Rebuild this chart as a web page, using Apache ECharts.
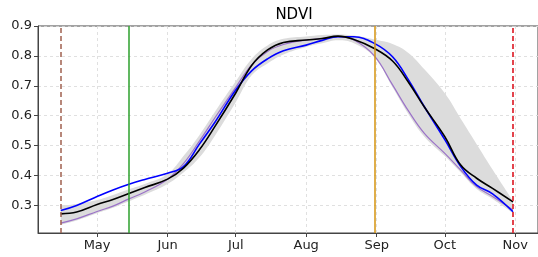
<!DOCTYPE html>
<html>
<head>
<meta charset="utf-8">
<script src="https://cdn.jsdelivr.net/npm/echarts@6/dist/echarts.min.js"></script>
<style>
  html, body { margin: 0; padding: 0; background: #fff; }
  #chart { width: 538px; height: 257px; }
</style>
</head>
<body>
<div id="chart"></div>
<script>
// sample dates along the season
const dates = ['2021-04-15', '2021-04-22', '2021-05-01', '2021-05-08', '2021-05-15', '2021-05-22',
  '2021-06-01', '2021-06-08', '2021-06-15', '2021-06-22', '2021-07-01', '2021-07-08', '2021-07-15',
  '2021-07-22', '2021-08-01', '2021-08-08', '2021-08-15', '2021-08-22', '2021-08-31', '2021-09-08',
  '2021-09-15', '2021-09-22', '2021-10-01', '2021-10-08', '2021-10-15', '2021-10-22', '2021-10-31']

const ndviBlack = [0.272, 0.278, 0.303, 0.32, 0.34, 0.36, 0.388, 0.425, 0.486, 0.566, 0.676, 0.768, 0.82,
  0.845, 0.853, 0.858, 0.866, 0.855, 0.825, 0.783, 0.712, 0.629, 0.53, 0.435, 0.391, 0.357, 0.312]
const ndviBlue = [0.283, 0.30, 0.33, 0.352, 0.371, 0.387, 0.408, 0.43, 0.505, 0.58, 0.686, 0.75, 0.79,
  0.817, 0.836, 0.852, 0.864, 0.864, 0.842, 0.797, 0.72, 0.63, 0.52, 0.43, 0.368, 0.339, 0.279]
const ndviPurple = [0.241, 0.255, 0.28, 0.298, 0.322, 0.345, 0.388, 0.44, 0.515, 0.595, 0.695, 0.77, 0.815,
  0.838, 0.853, 0.858, 0.864, 0.853, 0.80, 0.703, 0.616, 0.541, 0.474, 0.418, 0.363, 0.33, 0.285]
const bandLow = [0.236, 0.25, 0.274, 0.292, 0.314, 0.336, 0.372, 0.41, 0.46, 0.535, 0.645, 0.735, 0.775,
  0.805, 0.83, 0.842, 0.852, 0.842, 0.795, 0.695, 0.605, 0.53, 0.465, 0.41, 0.355, 0.322, 0.275]
const bandHigh = [0.30, 0.305, 0.318, 0.335, 0.354, 0.372, 0.405, 0.465, 0.535, 0.615, 0.715, 0.79, 0.835,
  0.857, 0.865, 0.87, 0.872, 0.868, 0.855, 0.84, 0.81, 0.755, 0.675, 0.59, 0.505, 0.42, 0.315]

const yTicks = [0.3, 0.4, 0.5, 0.6, 0.7, 0.8, 0.9]

// vertical markers: start, green, end of peak, end
const markerDates = ['2021-04-15', '2021-05-15', '2021-08-31', '2021-10-31']

const DAY = 24 * 3600 * 1000
const ts = (d) => +new Date(d + 'T00:00:00')
const pairs = (vals) => dates.map((d, i) => [ts(d), vals[i]])

const chart = echarts.init(document.getElementById('chart'), null, { renderer: 'canvas' })

const gridLine = { show: true, lineStyle: { color: '#d9d9d9', type: [3, 3], width: 0.8 } }
const font = 'DejaVu Sans'

const option = {
  animation: false,
  title: {
    text: 'NDVI',
    left: 289,
    top: 3,
    textAlign: 'center',
    textStyle: { fontFamily: font, fontSize: 15, fontWeight: 'normal', color: '#000' }
  },
  grid: {
    left: 38, right: -2, top: 26, bottom: 24,
    show: true, borderColor: '#444', borderWidth: 1
  },
  xAxis: {
    type: 'time',
    min: ts('2021-04-05'),
    max: ts('2021-11-11'),
    minInterval: 28 * DAY,
    maxInterval: 31 * DAY,
    axisLine: { lineStyle: { color: '#444' } },
    axisTick: { show: true, length: 4, lineStyle: { color: '#444' } },
    axisLabel: {
      margin: 6,
      showMinLabel: false, showMaxLabel: false,
      fontFamily: font, fontSize: 13, color: '#222',
      formatter: '{MMM}'
    },
    splitLine: gridLine
  },
  yAxis: {
    type: 'value',
    min: 0.208,
    max: 0.9,
    axisLine: { show: true, lineStyle: { color: '#444' } },
    axisTick: { show: true, length: 4, customValues: yTicks, lineStyle: { color: '#444' } },
    axisLabel: {
      customValues: yTicks,
      margin: 6,
      fontFamily: font, fontSize: 13, color: '#222',
      formatter: (v) => v.toFixed(1)
    },
    splitLine: gridLine
  },
  series: [
    {
      name: 'bandLow', type: 'line', stack: 'band', smooth: 0.4, symbol: 'none',
      data: pairs(bandLow), lineStyle: { opacity: 0 }, silent: true
    },
    {
      name: 'band', type: 'line', stack: 'band', smooth: 0.4, symbol: 'none',
      data: pairs(bandHigh.map((v, i) => v - bandLow[i])),
      lineStyle: { opacity: 0 }, areaStyle: { color: '#dcdcdc', opacity: 1 }, silent: true
    },
    {
      name: 'purple', type: 'line', smooth: 0.4, symbol: 'none',
      data: pairs(ndviPurple), lineStyle: { color: '#9b72c8', width: 1.2 }
    },
    {
      name: 'blue', type: 'line', smooth: 0.4, symbol: 'none',
      data: pairs(ndviBlue), lineStyle: { color: '#0000ff', width: 1.6 }
    },
    {
      name: 'black', type: 'line', smooth: 0.4, symbol: 'none',
      data: pairs(ndviBlack), lineStyle: { color: '#000', width: 1.6 }
    },
    {
      name: 'markers', type: 'line', data: [], z: 5,
      markLine: {
        silent: true, symbol: 'none', label: { show: false },
        data: [
          { xAxis: ts(markerDates[0]), lineStyle: { color: '#a0604f', type: [5, 3], width: 1.5 } },
          { xAxis: ts(markerDates[1]), lineStyle: { color: '#2ca02c', type: 'solid', width: 1.5 } },
          { xAxis: ts(markerDates[2]), lineStyle: { color: '#d4930f', type: 'solid', width: 1.5 } },
          { xAxis: ts(markerDates[3]), lineStyle: { color: '#e0303a', type: [5, 3], width: 1.8 } }
        ]
      }
    }
  ]
}

chart.setOption(option)
</script>
</body>
</html>
